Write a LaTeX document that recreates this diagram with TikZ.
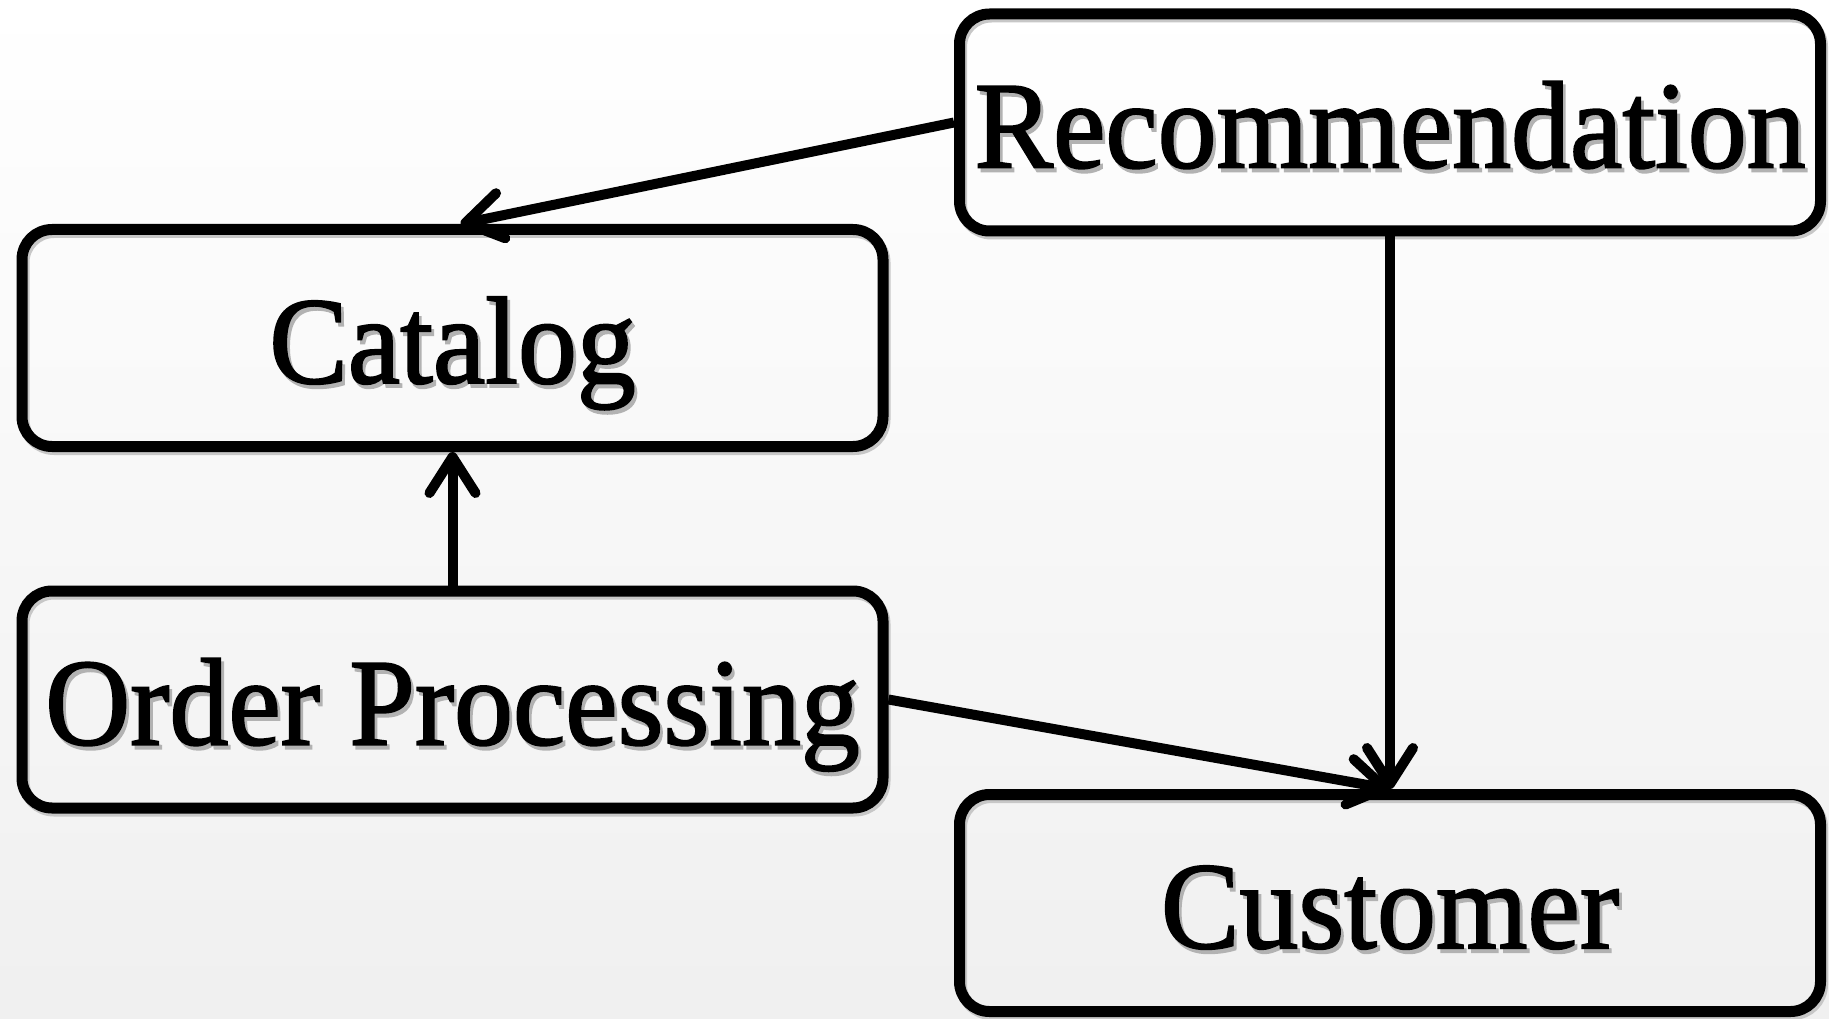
\documentclass[tikz,border=0pt]{standalone}
\usepackage{fontspec}
\setmainfont[FakeBold=1.6]{Liberation Serif}
\usetikzlibrary{arrows.meta}

% label text with a soft grey copy behind it
\newcommand\shadowed[1]{\makebox[0pt][l]{\hspace*{3pt}\raisebox{-4pt}{\textcolor{black!30}{#1}}}#1}
\newcommand\boxlabel[1]{\scalebox{0.95}[1]{\shadowed{#1}}}

\begin{document}
\begin{tikzpicture}[x=1pt,y=-1pt,
  box/.style={draw, line width=11pt, rounded corners=30pt,
    minimum width=861pt, minimum height=217pt, inner sep=0pt,
    text height=90pt, text depth=0pt,
    font=\fontsize{124}{130}\selectfont,
    preaction={draw=black!22, transform canvas={shift={(2pt,-3pt)}}}},
  conn/.style={line width=10pt, -{Straight Barb[length=36pt,width=46pt,round]}}]

  % page background
  \shade[top color=white, bottom color=black!6] (0,0) rectangle (1829,1019);
  \useasboundingbox (0,0) rectangle (1829,1019);

  % components
  \node[box] (rec)  at (1390,122.5) {\boxlabel{Recommendation}};
  \node[box] (cat)  at (452.5,338) {\boxlabel{Catalog}};
  \node[box] (ord)  at (452.5,699.5) {\boxlabel{Order Processing}};
  \node[box] (cust) at (1390,903) {\boxlabel{Customer}};

  % dependencies
  \draw[conn] (rec.west) -- ([xshift=8pt]cat.north);
  \draw[conn] (ord.north) -- (cat.south);
  \draw[conn] (ord.east) -- (cust.north);
  \draw[conn] (rec.south) -- (cust.north);
\end{tikzpicture}
\end{document}
